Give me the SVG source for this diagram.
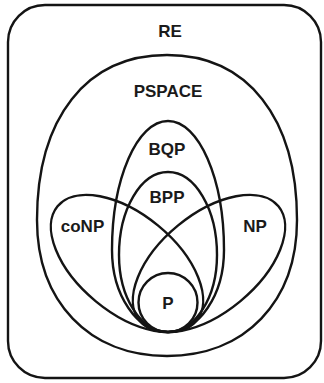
<svg xmlns="http://www.w3.org/2000/svg" width="324" height="383" viewBox="0 0 324 383">
<style>
.s{fill:none;stroke:#141414;stroke-width:2.4}
.t{font-family:"Liberation Sans",Arial,sans-serif;font-weight:bold;font-size:17px;fill:#1a1a1a;text-anchor:middle}
</style>
<rect width="324" height="383" fill="#ffffff"/>
<g id="RE"><rect class="s" x="8" y="5" width="313" height="373" rx="37"/><text class="t" x="170" y="37">RE</text></g>
<g id="PSPACE"><path class="s" d="M167,356 C89,356 37,301.6 37,220 C37,117.7 86.4,55 167,55 C247.6,55 297,117.7 297,220 C297,301.6 245,356 167,356 Z"/><text class="t" x="168" y="97">PSPACE</text></g>
<g id="BQP"><path class="s" d="M168,332 C137.1,332 112,295.3 112,250 C112,178.8 137.1,121 168,121 C198.9,121 224,178.8 224,250 C224,295.3 198.9,332 168,332 Z"/><text class="t" x="167" y="155">BQP</text></g>
<g id="BPP"><path class="s" d="M168,332 C140.9,332 119,297.5 119,255 C119,209.2 140.9,172 168,172 C195.1,172 217,209.2 217,255 C217,297.5 195.1,332 168,332 Z"/><text class="t" x="167" y="203">BPP</text></g>
<g id="coNP"><ellipse class="s" cx="127" cy="263.5" rx="90" ry="49" transform="rotate(39.5 127 263.5)"/><text class="t" x="82.5" y="232">coNP</text></g>
<g id="NP"><ellipse class="s" cx="209" cy="263.5" rx="90" ry="49" transform="rotate(-39.5 209 263.5)"/><text class="t" x="255" y="232">NP</text></g>
<g id="P"><circle class="s" cx="168" cy="302.5" r="29.5"/><text class="t" x="168" y="309">P</text></g>
<g id="connectors"></g>
</svg>
